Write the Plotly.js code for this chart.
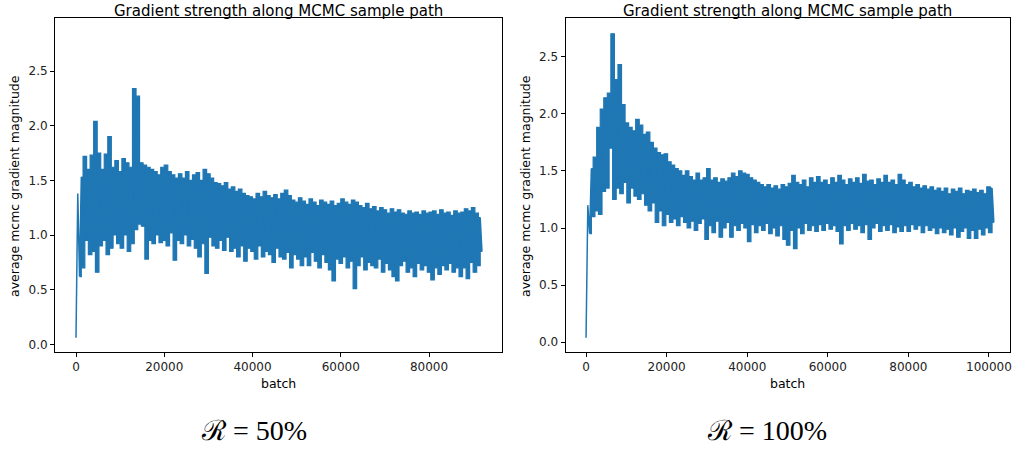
<!DOCTYPE html>
<html>
<head>
<meta charset="utf-8">
<script src="https://cdn.plot.ly/plotly-3.0.1.min.js"></script>
<style>html,body{margin:0;padding:0;background:#fff;}#chart{width:1013px;height:450px;}</style>
</head>
<body>
<div id="chart"></div>
<script>
// ---- Data ----
const batchStepLeft = 400;    // batches between plotted samples, R = 50%
const batchStepRight = 440;   // batches between plotted samples, R = 100%

const gradLeft = [
  0.06, 1.38, 0.62, 1.53, 0.70, 1.72, 0.95, 1.60, 0.82, 1.73,
  0.85, 2.04, 0.66, 1.75, 0.90, 1.60, 0.95, 1.74, 0.82, 1.90,
  0.88, 1.62, 1.00, 1.68, 0.92, 1.58, 0.88, 1.70, 1.00, 1.66,
  0.85, 1.62, 0.92, 2.34, 1.05, 2.27, 1.10, 1.66, 1.08, 1.64,
  0.78, 1.62, 0.95, 1.60, 0.92, 1.58, 1.00, 1.55, 0.93, 1.62,
  0.95, 1.64, 0.90, 1.58, 1.02, 1.55, 0.77, 1.52, 0.95, 1.56,
  0.92, 1.52, 1.00, 1.58, 0.90, 1.50, 0.96, 1.55, 0.88, 1.57,
  0.80, 1.50, 0.92, 1.60, 0.65, 1.56, 0.98, 1.52, 0.90, 1.48,
  0.88, 1.47, 0.95, 1.45, 0.86, 1.48, 0.98, 1.42, 0.85, 1.44,
  0.88, 1.40, 0.80, 1.42, 0.90, 1.38, 0.76, 1.36, 0.88, 1.35,
  0.85, 1.33, 0.78, 1.38, 0.90, 1.35, 0.80, 1.40, 0.85, 1.36,
  0.82, 1.34, 0.75, 1.37, 0.88, 1.33, 0.80, 1.38, 0.78, 1.41,
  0.84, 1.36, 0.70, 1.32, 0.82, 1.30, 0.78, 1.34, 0.72, 1.31,
  0.80, 1.28, 0.72, 1.33, 0.84, 1.30, 0.76, 1.27, 0.70, 1.32,
  0.82, 1.30, 0.75, 1.28, 0.68, 1.31, 0.58, 1.27, 0.78, 1.29,
  0.74, 1.33, 0.80, 1.30, 0.70, 1.28, 0.76, 1.32, 0.51, 1.30,
  0.72, 1.27, 0.80, 1.25, 0.68, 1.29, 0.75, 1.24, 0.72, 1.26,
  0.70, 1.22, 0.78, 1.25, 0.66, 1.23, 0.74, 1.20, 0.68, 1.24,
  0.62, 1.21, 0.58, 1.23, 0.72, 1.20, 0.76, 1.19, 0.66, 1.22,
  0.70, 1.20, 0.62, 1.21, 0.74, 1.19, 0.68, 1.22, 0.72, 1.20,
  0.66, 1.21, 0.59, 1.22, 0.70, 1.19, 0.64, 1.23, 0.72, 1.20,
  0.68, 1.21, 0.74, 1.18, 0.66, 1.22, 0.70, 1.20, 0.62, 1.21,
  0.70, 1.24, 0.60, 1.22, 0.75, 1.25, 0.66, 1.20, 0.72, 1.16,
  0.85
];

const gradRight = [
  0.04, 1.20, 0.95, 1.52, 1.10, 1.62, 1.15, 1.88, 1.12, 2.04,
  1.32, 2.14, 1.35, 2.18, 1.70, 2.70, 1.25, 2.30, 1.35, 2.43,
  1.30, 2.08, 1.40, 1.92, 1.22, 1.88, 1.35, 1.85, 1.28, 1.95,
  1.25, 1.90, 1.30, 1.82, 1.20, 1.84, 1.15, 1.75, 1.22, 1.70,
  1.05, 1.66, 1.15, 1.64, 1.02, 1.65, 1.12, 1.58, 1.05, 1.55,
  1.08, 1.52, 1.02, 1.50, 1.10, 1.46, 1.05, 1.50, 1.00, 1.45,
  1.06, 1.42, 0.98, 1.48, 1.04, 1.42, 1.08, 1.44, 0.90, 1.52,
  1.02, 1.42, 0.96, 1.44, 1.06, 1.40, 0.92, 1.43, 1.00, 1.41,
  1.05, 1.44, 0.92, 1.48, 1.02, 1.45, 0.98, 1.50, 1.04, 1.48,
  1.00, 1.47, 0.88, 1.44, 1.03, 1.42, 0.96, 1.40, 1.02, 1.38,
  0.98, 1.36, 1.04, 1.38, 0.95, 1.35, 1.00, 1.37, 0.93, 1.34,
  1.02, 1.38, 0.90, 1.36, 0.85, 1.39, 0.98, 1.46, 0.82, 1.40,
  1.00, 1.38, 0.95, 1.42, 1.04, 1.36, 0.98, 1.44, 1.02, 1.40,
  0.97, 1.45, 1.03, 1.40, 0.98, 1.42, 1.04, 1.38, 0.99, 1.44,
  1.02, 1.40, 0.97, 1.46, 0.86, 1.42, 1.02, 1.38, 0.98, 1.43,
  1.04, 1.40, 0.99, 1.44, 1.02, 1.39, 0.96, 1.47, 1.03, 1.41,
  0.90, 1.42, 1.00, 1.38, 1.04, 1.43, 0.97, 1.40, 1.02, 1.46,
  0.98, 1.40, 1.03, 1.42, 0.96, 1.38, 1.01, 1.47, 0.97, 1.42,
  1.02, 1.38, 0.97, 1.40, 1.03, 1.36, 0.99, 1.38, 1.02, 1.35,
  0.96, 1.37, 1.02, 1.34, 0.98, 1.36, 1.00, 1.33, 0.95, 1.35,
  1.00, 1.32, 0.96, 1.35, 0.99, 1.30, 0.94, 1.34, 1.00, 1.32,
  0.92, 1.35, 0.97, 1.30, 1.00, 1.33, 0.91, 1.32, 0.98, 1.34,
  0.91, 1.31, 0.99, 1.33, 0.94, 1.30, 1.00, 1.36, 0.96, 1.35,
  1.05
];

const plotTitle = "Gradient strength along MCMC sample path";
const xLabel = "batch";
const yLabel = "average mcmc gradient magnitude";
const panelLabels = ["\u211B = 50%", "\u211B = 100%"];
const yTicksLeft = [0.0, 0.5, 1.0, 1.5, 2.0, 2.5];
const xTicksLeft = [0, 20000, 40000, 60000, 80000];
const yTicksRight = [0.0, 0.5, 1.0, 1.5, 2.0, 2.5];
const xTicksRight = [0, 20000, 40000, 60000, 80000, 100000];

// ---- Build ----
const batchLeft = gradLeft.map((_, i) => i * batchStepLeft);
const batchRight = gradRight.map((_, i) => i * batchStepRight);

const W = 1013, H = 450;
const px = v => v / W;
const py = v => 1 - v / H;
const lineColor = '#1f77b4';
const pathShape = 'hvh';

// The dense sample path swings between local lows (even samples) and highs (odd samples);
// the area between these swings is painted as the solid body of the line, as in the picture.
function swingBand(xs, ys, xa, ya) {
  const lowX = [], lowY = [], highX = [], highY = [];
  for (let i = 2; i < ys.length; i++) {   // skip the initial warm-up drop
    if (i % 2 === 0) { lowX.push(xs[i]); lowY.push(ys[i]); }
    else { highX.push(xs[i]); highY.push(ys[i]); }
  }
  return [
    {x: lowX, y: lowY, type: 'scatter', mode: 'lines',
     line: {color: lineColor, width: 1.2, shape: pathShape},
     xaxis: xa, yaxis: ya, hoverinfo: 'skip'},
    {x: highX, y: highY, type: 'scatter', mode: 'lines',
     line: {color: lineColor, width: 1.2, shape: pathShape},
     fill: 'tonexty', fillcolor: lineColor, xaxis: xa, yaxis: ya, hoverinfo: 'skip'}
  ];
}

const traces = [
  ...swingBand(batchLeft, gradLeft, 'x', 'y'),
  ...swingBand(batchRight, gradRight, 'x2', 'y2'),
  {x: batchLeft, y: gradLeft, type: 'scatter', mode: 'lines',
   line: {color: lineColor, width: 1.5}, xaxis: 'x', yaxis: 'y', hoverinfo: 'skip'},
  {x: batchRight, y: gradRight, type: 'scatter', mode: 'lines',
   line: {color: lineColor, width: 1.5}, xaxis: 'x2', yaxis: 'y2', hoverinfo: 'skip'}
];

const tickFont = {family: 'DejaVu Sans', size: 12, color: '#222'};
function axisBase(extra) {
  return Object.assign({
    showgrid: false, zeroline: false, showline: true, mirror: true,
    linecolor: '#000', linewidth: 1, ticks: 'outside', ticklen: 4,
    tickcolor: '#000', tickwidth: 1, tickfont: tickFont, fixedrange: true
  }, extra);
}

const PL = {l: 55, r: 502}, PR = {l: 565.5, r: 1009.5};
const frameTop = 18, frameBottom = 352;
const labelFont = {family: 'DejaVu Sans', size: 12.5, color: '#000'};
const titleFont = {family: 'DejaVu Sans', size: 15, color: '#000'};
const panelFont = {family: 'Liberation Serif, DejaVu Serif, serif', size: 28, color: '#000'};

function note(text, x, y, font, extra) {
  return Object.assign({text: text, xref: 'paper', yref: 'paper', x: px(x), y: py(y),
    xanchor: 'center', yanchor: 'middle', showarrow: false, font: font}, extra || {});
}

const layout = {
  width: W, height: H,
  margin: {l: 0, r: 0, t: 0, b: 0},
  paper_bgcolor: '#fff', plot_bgcolor: '#fff',
  showlegend: false,
  xaxis: axisBase({domain: [px(PL.l), px(PL.r)], range: [-4760, 96540],
    tickvals: xTicksLeft, ticktext: xTicksLeft.map(String), anchor: 'y'}),
  yaxis: axisBase({domain: [py(frameBottom), py(frameTop)], range: [-0.07, 2.985],
    tickvals: yTicksLeft, ticktext: yTicksLeft.map(v => v.toFixed(1)), anchor: 'x'}),
  xaxis2: axisBase({domain: [px(PR.l), px(PR.r)], range: [-5100, 105090],
    tickvals: xTicksRight, ticktext: xTicksRight.map(String), anchor: 'y2'}),
  yaxis2: axisBase({domain: [py(frameBottom), py(frameTop)], range: [-0.085, 2.838],
    tickvals: yTicksRight, ticktext: yTicksRight.map(v => v.toFixed(1)), anchor: 'x2'}),
  annotations: [
    note(plotTitle, (PL.l + PL.r) / 2, 0, titleFont, {yanchor: 'top'}),
    note(plotTitle, (PR.l + PR.r) / 2, 0, titleFont, {yanchor: 'top'}),
    note(xLabel, (PL.l + PL.r) / 2, 383, labelFont),
    note(xLabel, (PR.l + PR.r) / 2, 383, labelFont),
    note(yLabel, 14, 186, labelFont, {textangle: -90}),
    note(yLabel, 525, 186, labelFont, {textangle: -90}),
    note(panelLabels[0], 254, 430, panelFont),
    note(panelLabels[1], 767, 430, panelFont)
  ]
};

Plotly.newPlot('chart', traces, layout, {staticPlot: true, displayModeBar: false});
</script>
</body>
</html>
